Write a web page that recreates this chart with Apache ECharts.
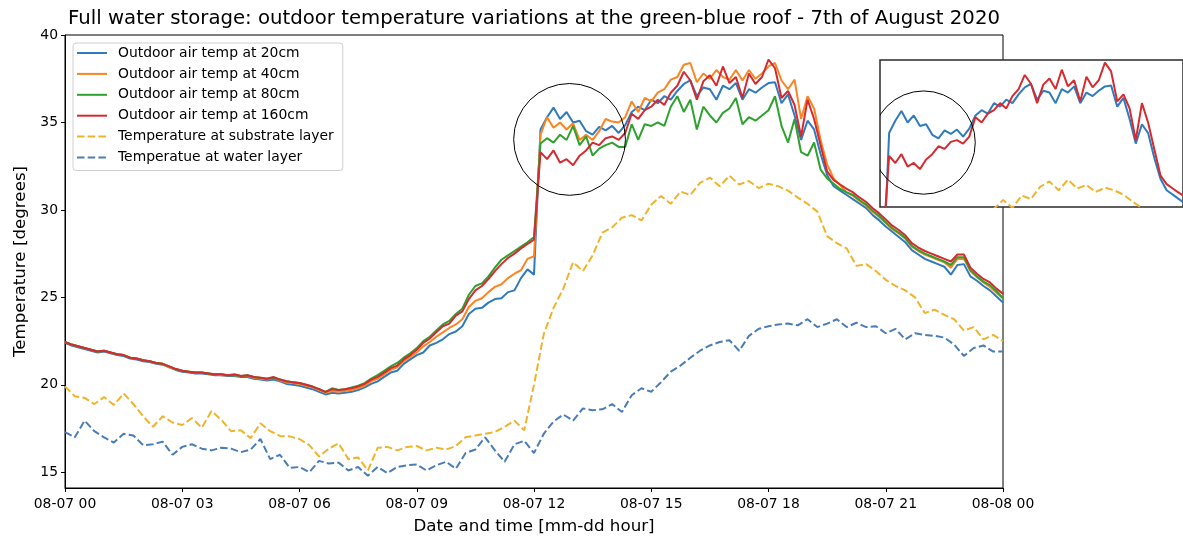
<!DOCTYPE html>
<html>
<head>
<meta charset="utf-8">
<script src="https://cdn.jsdelivr.net/npm/echarts@6/dist/echarts.min.js"></script>
<style>
  html, body { margin: 0; padding: 0; background: #fff; }
  #chart { width: 1183px; height: 540px; }
</style>
</head>
<body>
<div id="chart"></div>
<script>
// Tick marks of the time axis (hours since midnight, 7 August) and their labels
const tickHours = [0, 3, 6, 9, 12, 15, 18, 21, 24];
const tickLabels = ['08-07 00', '08-07 03', '08-07 06', '08-07 09', '08-07 12',
                    '08-07 15', '08-07 18', '08-07 21', '08-08 00'];
const tempTicks = [15, 20, 25, 30, 35, 40];

// Sampling steps (hours): air sensors every 10 min, roof layers every 15 min
const airStep = 1 / 6;
const layerStep = 1 / 4;

// Outdoor air temperature, 00:00 -> 24:00
const air20 = [
  22.4, 22.25, 22.15, 22.05, 21.95, 21.85, 21.9, 21.8, 21.7, 21.65,
  21.5, 21.45, 21.35, 21.3, 21.2, 21.15, 21.0, 20.85, 20.75, 20.7,
  20.65, 20.65, 20.6, 20.55, 20.55, 20.5, 20.5, 20.45, 20.45, 20.35,
  20.3, 20.25, 20.3, 20.2, 20.05, 20.0, 19.95, 19.85, 19.75, 19.6,
  19.45, 19.55, 19.5, 19.55, 19.6, 19.7, 19.85, 20.05, 20.2, 20.45,
  20.7, 20.8, 21.2, 21.45, 21.7, 21.85, 22.25, 22.4, 22.6, 22.9,
  23.05, 23.35, 24.05, 24.35, 24.4, 24.7, 24.9, 24.95, 25.3, 25.4,
  26.1, 26.6, 26.3,
  34.6, 35.3, 35.85, 35.2, 35.6, 35.0, 35.1, 34.5, 34.3, 34.75, 34.55, 34.8, 34.4, 34.85, 35.6,
  35.9, 35.7, 36.3, 36.1, 36.5, 36.3, 36.8, 37.2, 37.4, 36.5,
  37.0, 36.9, 36.3, 37.1, 36.9, 37.25, 36.3, 36.9, 36.7, 37.0,
  37.25, 37.3, 36.1, 36.6, 35.4, 34.0, 35.1, 34.6, 33.2, 32.0,
  31.35, 31.1, 30.85,
  30.6, 30.35, 30.1, 29.7, 29.4, 29.05, 28.75, 28.45, 28.15, 27.7,
  27.45, 27.2, 27.05, 26.9, 26.75, 26.3, 26.85, 26.9, 26.2, 25.95,
  25.65, 25.4, 25.05, 24.7
];
const air40 = [
  22.45, 22.3, 22.2, 22.1, 22.0, 21.9, 21.95, 21.85, 21.75, 21.7,
  21.55, 21.5, 21.4, 21.35, 21.25, 21.2, 21.0, 20.9, 20.8, 20.75,
  20.7, 20.7, 20.65, 20.6, 20.55, 20.55, 20.55, 20.5, 20.5, 20.4,
  20.35, 20.3, 20.4, 20.25, 20.15, 20.1, 20.05, 19.95, 19.85, 19.7,
  19.55, 19.65, 19.6, 19.65, 19.7, 19.8, 19.95, 20.2, 20.35, 20.6,
  20.85, 21.0, 21.35, 21.6, 21.85, 22.2, 22.45, 22.75, 23.0, 23.25,
  23.45, 23.75, 24.45, 24.8, 24.95, 25.3, 25.6, 25.75, 26.1, 26.35,
  26.55, 27.2, 27.35,
  34.3, 35.3, 34.7, 35.0, 34.6, 34.95, 34.0, 34.3, 34.0, 34.5, 35.2, 35.05, 35.0, 35.3, 36.2,
  35.6, 36.4, 36.2, 36.7, 36.9, 37.45, 37.6, 38.3, 38.4, 37.3,
  37.8, 37.5, 38.0, 37.6, 37.45, 38.0, 37.4, 38.0, 37.5, 37.8,
  38.2, 38.4, 37.4, 36.9, 37.45, 35.2, 36.5, 35.8, 34.0, 32.6,
  31.8, 31.4, 31.0,
  30.8, 30.5, 30.25, 29.9, 29.6, 29.25, 28.9, 28.65, 28.35, 27.9,
  27.65, 27.45, 27.3, 27.15, 27.0, 26.7, 27.2, 27.2, 26.5, 26.15,
  25.85, 25.6, 25.25, 24.95
];
const air80 = [
  22.45, 22.3, 22.2, 22.1, 22.0, 21.9, 21.95, 21.85, 21.75, 21.7,
  21.55, 21.5, 21.4, 21.35, 21.25, 21.2, 21.05, 20.9, 20.8, 20.75,
  20.7, 20.7, 20.65, 20.6, 20.6, 20.55, 20.55, 20.5, 20.55, 20.45,
  20.4, 20.35, 20.4, 20.3, 20.2, 20.15, 20.1, 20.0, 19.9, 19.75,
  19.6, 19.8, 19.7, 19.75, 19.85, 19.95, 20.1, 20.35, 20.55, 20.8,
  21.05, 21.25, 21.55, 21.8, 22.1, 22.5, 22.75, 23.1, 23.45, 23.65,
  24.05, 24.35, 25.15, 25.65, 25.8, 26.2, 26.7, 27.15, 27.4, 27.65,
  27.9, 28.15, 28.45,
  33.8, 34.1, 33.85, 34.3, 34.0, 34.8, 33.7, 34.2, 33.1, 33.5, 33.7, 33.85, 33.6, 33.6, 34.9,
  34.0, 34.9, 34.8, 35.0, 34.8, 35.9, 36.5, 35.6, 36.3, 34.6,
  35.9, 35.4, 35.0, 35.55, 35.8, 36.4, 34.9, 35.3, 35.1, 35.4,
  35.7, 36.5, 34.8, 33.85, 35.2, 33.3, 33.1, 33.85, 32.3, 31.8,
  31.5, 31.2, 31.0,
  30.85, 30.55, 30.3, 29.95, 29.65, 29.3, 28.95, 28.7, 28.4, 27.95,
  27.7, 27.5, 27.35, 27.2, 27.05, 26.85, 27.3, 27.3, 26.55, 26.2,
  25.9, 25.7, 25.35, 24.95
];
const air160 = [
  22.45, 22.3, 22.2, 22.1, 22.0, 21.9, 21.95, 21.85, 21.75, 21.7,
  21.55, 21.5, 21.4, 21.35, 21.25, 21.2, 21.05, 20.9, 20.8, 20.75,
  20.7, 20.7, 20.65, 20.6, 20.6, 20.55, 20.6, 20.5, 20.55, 20.45,
  20.4, 20.35, 20.45, 20.3, 20.2, 20.15, 20.1, 20.0, 19.9, 19.75,
  19.6, 19.75, 19.7, 19.75, 19.8, 19.9, 20.05, 20.3, 20.45, 20.7,
  20.95, 21.1, 21.45, 21.7, 22.0, 22.4, 22.65, 23.0, 23.35, 23.5,
  23.95, 24.2, 24.9, 25.4, 25.65, 26.05, 26.5, 26.9, 27.25, 27.5,
  27.8, 28.05, 28.3,
  33.3, 32.9, 33.4, 32.7, 32.9, 32.55, 33.1, 33.4, 33.85, 33.7, 34.1, 34.2, 34.0, 34.4, 35.5,
  35.2, 35.7, 35.9, 36.3, 36.0, 36.7, 37.1, 37.9, 37.4, 36.3,
  37.35, 37.7, 37.1, 38.2, 37.25, 37.6, 36.4, 37.8, 37.2, 37.6,
  38.6, 38.1, 36.4, 36.8, 36.0, 34.2, 36.3, 35.2, 33.7, 32.2,
  31.7, 31.45, 31.2,
  31.0, 30.7, 30.45, 30.1, 29.8, 29.45, 29.1, 28.85, 28.55, 28.1,
  27.85, 27.65, 27.5, 27.35, 27.2, 27.05, 27.45, 27.45, 26.7, 26.35,
  26.05, 25.85, 25.5, 25.2
];

// Roof build-up temperatures
const substrate = [
  19.9, 19.35, 19.25, 18.9, 19.3, 18.85, 19.5, 18.9, 18.2, 17.6,
  18.2, 17.85, 17.7, 18.1, 17.55, 18.5, 18.0, 17.35, 17.4, 16.95,
  17.8, 17.35, 17.08, 17.05, 16.9, 16.55, 15.9, 16.35, 16.65, 15.75,
  15.85, 15.1, 16.4, 16.45, 16.25, 16.45, 16.5, 16.25, 16.4, 16.3,
  16.5, 17.0, 17.1, 17.2, 17.3, 17.6, 17.95, 17.4, 20.0, 22.9,
  24.4, 25.5, 27.0, 26.5, 27.4, 28.7, 29.0, 29.55, 29.7, 29.4,
  30.3, 30.8, 30.35, 31.05, 30.85, 31.55, 31.85, 31.35, 31.95, 31.45,
  31.65, 31.25, 31.5, 31.35, 31.1, 30.7, 30.35, 29.9, 28.5, 28.1,
  27.8, 26.8, 26.9, 26.5, 26.0, 25.65, 25.4, 25.0, 24.1, 24.3,
  24.0, 23.75, 23.1, 23.3, 22.6, 22.85, 22.5
];
const water = [
  17.3, 17.0, 17.95, 17.35, 17.0, 16.7, 17.2, 17.1, 16.55, 16.6,
  16.75, 16.0, 16.45, 16.6, 16.35, 16.25, 16.4, 16.35, 16.15, 16.3,
  16.9, 15.75, 16.0, 15.25, 15.3, 15.0, 15.65, 15.5, 15.55, 15.1,
  15.3, 14.8, 15.3, 14.95, 15.3, 15.4, 15.45, 15.1, 15.4, 15.6,
  15.2, 16.1, 16.3, 17.0, 16.25, 15.6, 16.6, 16.8, 16.1, 17.2,
  17.9, 18.3, 17.95, 18.65, 18.55, 18.6, 18.9, 18.45, 19.4, 19.8,
  19.6, 20.15, 20.75, 21.1, 21.55, 21.95, 22.25, 22.45, 22.55, 21.95,
  22.8, 23.2, 23.35, 23.45, 23.5, 23.4, 23.75, 23.3, 23.5, 23.75,
  23.3, 23.55, 23.3, 23.35, 22.95, 23.2, 22.6, 22.95, 22.85, 22.8,
  22.7, 22.3, 21.65, 22.1, 22.25, 21.9, 21.9
];

const NAMES = {
  a20: 'Outdoor air temp at 20cm',
  a40: 'Outdoor air temp at 40cm',
  a80: 'Outdoor air temp at 80cm',
  a160: 'Outdoor air temp at 160cm',
  sub: 'Temperature at substrate layer',
  wat: 'Temperatue at water layer'
};
const COLORS = {
  a20: '#2f7bbd', a40: '#fb8423', a80: '#2ea12e', a160: '#d52b30',
  sub: '#efb42c', wat: '#4a7db7'
};

// Rings around the early-afternoon split of the sensors (hours, °C, radius in hours)
const ringMain = { t: 12.91, temp: 34.03, r: 1.43 };
const ringDetail = { t: 13.1, temp: 34.06, r: 1.395 };

// Close-up window, same scale as the main plot
const detailRange = { tMin: 11.92, tMax: 20.11, yMin: 30.4, yMax: 38.75 };

const FONT = 'DejaVu Sans';
const DASH = [7.5, 3.2];

function toPoints(values, step) {
  return values.map((v, i) => [i * step, v]);
}

function line(key, values, step, dashed, gridIndex, z) {
  return {
    type: 'line',
    name: NAMES[key],
    data: toPoints(values, step),
    xAxisIndex: gridIndex,
    yAxisIndex: gridIndex,
    symbol: 'none',
    showSymbol: false,
    silent: true,
    clip: true,
    z: z,
    lineStyle: { color: COLORS[key], width: 2, type: dashed ? DASH : 'solid' },
    itemStyle: { color: COLORS[key] }
  };
}

function ring(spec, gridIndex) {
  return {
    type: 'custom',
    xAxisIndex: gridIndex,
    yAxisIndex: gridIndex,
    clip: true,
    silent: true,
    z: 10,
    data: [[spec.t, spec.temp, spec.r]],
    renderItem: function (params, api) {
      const c = api.coord([api.value(0), api.value(1)]);
      const r = api.size([api.value(2), 0])[0];
      return {
        type: 'circle',
        shape: { cx: c[0], cy: c[1], r: r },
        style: { fill: 'none', stroke: '#000', lineWidth: 1 }
      };
    }
  };
}

const chart = echarts.init(document.getElementById('chart'), null, { renderer: 'canvas' });

chart.setOption({
  animation: false,
  backgroundColor: '#fff',
  title: {
    text: 'Full water storage: outdoor temperature variations at the green-blue roof - 7th of August 2020',
    left: 534,
    top: 9,
    textAlign: 'center',
    padding: 0,
    textStyle: { fontFamily: FONT, fontSize: 19.7, fontWeight: 'normal', color: '#000' }
  },
  legend: {
    data: [NAMES.a20, NAMES.a40, NAMES.a80, NAMES.a160, NAMES.sub, NAMES.wat],
    orient: 'vertical',
    left: 73,
    top: 43,
    itemWidth: 30,
    itemHeight: 14,
    itemGap: 6.9,
    padding: [3, 9, 6, 3],
    backgroundColor: 'rgba(255,255,255,0.85)',
    borderColor: '#cfcfcf',
    borderWidth: 1,
    borderRadius: 3,
    selectedMode: false,
    itemStyle: { opacity: 0 },
    textStyle: { fontFamily: FONT, fontSize: 13.9, color: '#000', lineHeight: 14, padding: [0, 0, 0, 6] }
  },
  grid: [
    { left: 65, right: 180, top: 35, bottom: 49, show: true, borderColor: '#000', borderWidth: 1, backgroundColor: '#fff' },
    { left: 880, top: 60, width: 320, height: 147, show: true, borderColor: '#2a2a2a', borderWidth: 1.5, backgroundColor: '#fff' }
  ],
  xAxis: [
    {
      gridIndex: 0, type: 'value', min: 0, max: 24, interval: 3,
      axisLine: { show: true, onZero: false, lineStyle: { color: '#000', width: 1 } },
      axisTick: { show: true, length: 4, lineStyle: { color: '#000' } },
      splitLine: { show: false },
      axisLabel: {
        color: '#000', fontFamily: FONT, fontSize: 13.9, margin: 9,
        showMinLabel: true, showMaxLabel: true,
        formatter: function (v) {
          const i = tickHours.indexOf(v);
          return i >= 0 ? tickLabels[i] : '';
        }
      },
      name: 'Date and time [mm-dd hour]',
      nameLocation: 'middle',
      nameGap: 30,
      nameTextStyle: { fontFamily: FONT, fontSize: 16.7, color: '#000' }
    },
    {
      gridIndex: 1, type: 'value', min: detailRange.tMin, max: detailRange.tMax, show: false
    }
  ],
  yAxis: [
    {
      gridIndex: 0, type: 'value', min: 14.1, max: 40,
      axisLine: { show: true, onZero: false, lineStyle: { color: '#000', width: 1 } },
      axisTick: { show: true, length: 4, lineStyle: { color: '#000' }, customValues: tempTicks },
      splitLine: { show: false },
      axisLabel: {
        color: '#000', fontFamily: FONT, fontSize: 13.9, margin: 7,
        customValues: tempTicks,
        formatter: function (v) { return tempTicks.indexOf(v) >= 0 ? String(v) : ''; }
      },
      name: 'Temperature [degrees]',
      nameLocation: 'middle',
      nameRotate: 90,
      nameGap: 33,
      nameTextStyle: { fontFamily: FONT, fontSize: 16.7, color: '#000' }
    },
    {
      gridIndex: 1, type: 'value', min: detailRange.yMin, max: detailRange.yMax, show: false
    }
  ],
  series: [
    line('a20', air20, airStep, false, 0, 2),
    line('a40', air40, airStep, false, 0, 2),
    line('a80', air80, airStep, false, 0, 2),
    line('a160', air160, airStep, false, 0, 2),
    line('sub', substrate, layerStep, true, 0, 2),
    line('wat', water, layerStep, true, 0, 2),
    ring(ringMain, 0),
    line('a20', air20, airStep, false, 1, 3),
    line('a160', air160, airStep, false, 1, 3),
    line('sub', substrate, layerStep, true, 1, 3),
    ring(ringDetail, 1)
  ]
});
</script>
</body>
</html>
